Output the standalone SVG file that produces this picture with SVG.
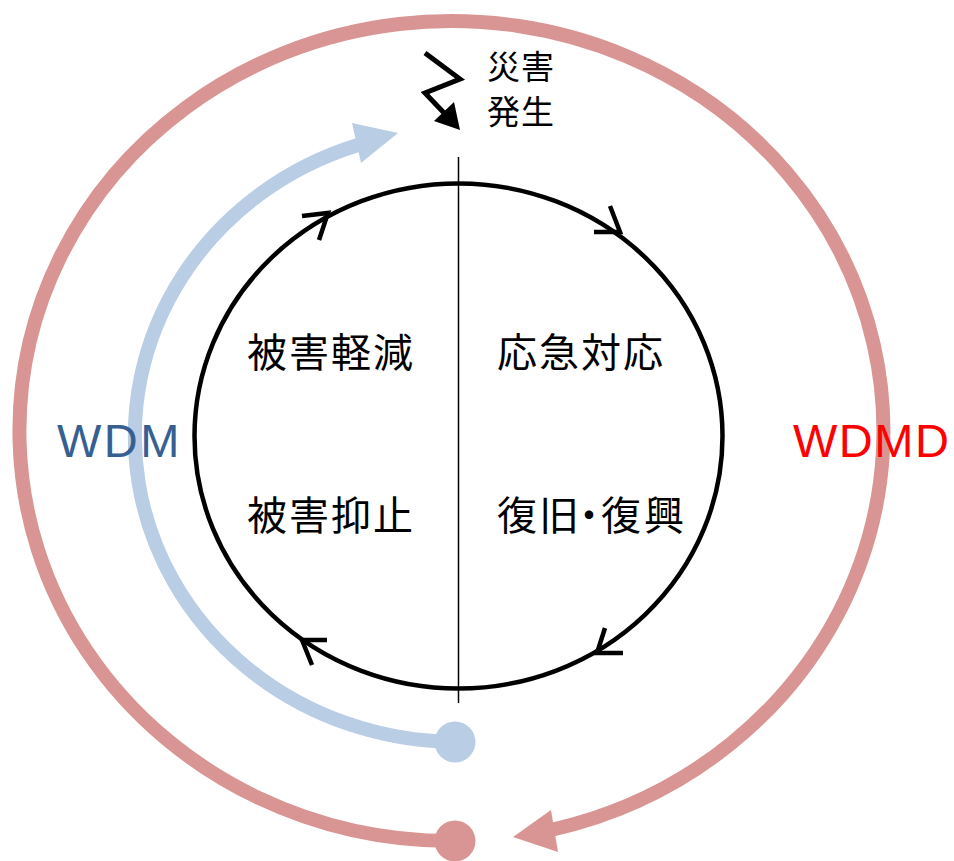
<svg xmlns="http://www.w3.org/2000/svg" width="954" height="861" viewBox="0 0 954 861">
<style>
.jp{font-family:"Noto Sans CJK JP","Noto Sans CJK SC",sans-serif;fill:#000}
.big{font-size:40px;letter-spacing:2px}
.small{font-size:33px;letter-spacing:1px}
.lat{font-family:"Liberation Sans",Arial,sans-serif;font-size:47px;letter-spacing:2.5px}
.chev{fill:none;stroke:#000;stroke-width:4.5;stroke-linecap:butt;stroke-linejoin:miter}
</style>
<rect width="954" height="861" fill="#fff"/>
<g id="connectors">
  <g id="wdmd-arc">
    <path d="M 455 841 A 432 410 0 1 1 552 829.75" fill="none" stroke="#D99594" stroke-width="14"/>
    <circle cx="455" cy="841" r="20.5" fill="#D99594"/>
    <polygon points="513,837 551,810 558,852" fill="#D99594"/>
  </g>
  <g id="wdm-arc">
    <path d="M 455 742 A 323 306 0 0 1 358 145" fill="none" stroke="#B9CDE5" stroke-width="14"/>
    <circle cx="455" cy="742" r="20.5" fill="#B9CDE5"/>
    <polygon points="398,133 352,123 361,163" fill="#B9CDE5"/>
  </g>
  <g id="cycle">
    <ellipse cx="458.5" cy="436" rx="264" ry="252.5" fill="none" stroke="#000" stroke-width="4.5"/>
    <line x1="458.5" y1="157" x2="458.5" y2="703" stroke="#000" stroke-width="1.5"/>
    <polyline class="chev" points="302,216 328,213 319,240"/>
    <polyline class="chev" points="610,206 620,232 594,232"/>
    <polyline class="chev" points="605,628 597,653 623,653"/>
    <polyline class="chev" points="327,640 302,640 312,665"/>
  </g>
  <g id="lightning">
    <polyline points="425,53 460,79 425,93 446,115" fill="none" stroke="#000" stroke-width="5" stroke-linejoin="miter"/>
    <polygon points="460,130 434,121 454,102" fill="#000"/>
  </g>
</g>
<g id="node-disaster">
  <text class="jp small" x="487" y="79">災害</text>
  <text class="jp small" x="487" y="124">発生</text>
</g>
<g id="node-mitigation"><text class="jp big" x="247" y="367">被害軽減</text></g>
<g id="node-response"><text class="jp big" x="497" y="367">応急対応</text></g>
<g id="node-prevention"><text class="jp big" x="247" y="530">被害抑止</text></g>
<g id="node-recovery"><text class="jp big" x="497 539 569 601 644" y="530">復旧・復興</text></g>
<g id="label-wdm"><text class="lat" x="57" y="457" fill="#376092">WDM</text></g>
<g id="label-wdmd"><text class="lat" x="793" y="457" fill="#FF0000" style="letter-spacing:1.5px">WDMD</text></g>
</svg>
